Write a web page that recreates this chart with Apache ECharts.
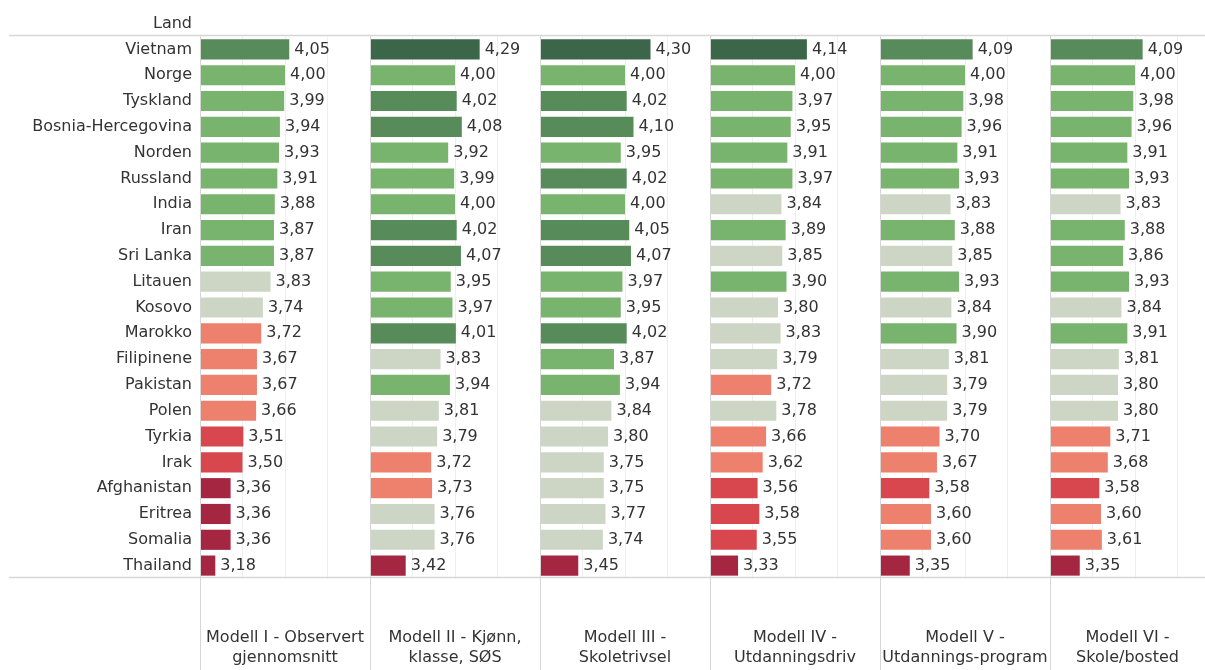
<!DOCTYPE html>
<html>
<head>
<meta charset="utf-8">
<script src="https://cdn.jsdelivr.net/npm/echarts@6/dist/echarts.min.js"></script>
<style>html,body{margin:0;padding:0;background:#fff}#c{width:1205px;height:670px}</style>
</head>
<body>
<div id="c"></div>
<script>
const countries = ["Vietnam","Norge","Tyskland","Bosnia-Hercegovina","Norden","Russland","India","Iran","Sri Lanka","Litauen","Kosovo","Marokko","Filipinene","Pakistan","Polen","Tyrkia","Irak","Afghanistan","Eritrea","Somalia","Thailand"];
const models = ["Modell I - Observert\ngjennomsnitt","Modell II - Kjønn,\nklasse, SØS","Modell III -\nSkoletrivsel","Modell IV -\nUtdanningsdriv","Modell V -\nUtdannings-program","Modell VI -\nSkole/bosted"];
const modell1 = [4.05,4.00,3.99,3.94,3.93,3.91,3.88,3.87,3.87,3.83,3.74,3.72,3.67,3.67,3.66,3.51,3.50,3.36,3.36,3.36,3.18];
const modell2 = [4.29,4.00,4.02,4.08,3.92,3.99,4.00,4.02,4.07,3.95,3.97,4.01,3.83,3.94,3.81,3.79,3.72,3.73,3.76,3.76,3.42];
const modell3 = [4.30,4.00,4.02,4.10,3.95,4.02,4.00,4.05,4.07,3.97,3.95,4.02,3.87,3.94,3.84,3.80,3.75,3.75,3.77,3.74,3.45];
const modell4 = [4.14,4.00,3.97,3.95,3.91,3.97,3.84,3.89,3.85,3.90,3.80,3.83,3.79,3.72,3.78,3.66,3.62,3.56,3.58,3.55,3.33];
const modell5 = [4.09,4.00,3.98,3.96,3.91,3.93,3.83,3.88,3.85,3.93,3.84,3.90,3.81,3.79,3.79,3.70,3.67,3.58,3.60,3.60,3.35];
const modell6 = [4.09,4.00,3.98,3.96,3.91,3.93,3.83,3.88,3.86,3.93,3.84,3.91,3.81,3.80,3.80,3.71,3.68,3.58,3.60,3.61,3.35];
const seriesData = [modell1,modell2,modell3,modell4,modell5,modell6];

// colour bins (lower bound, colour)
const bins = [
  [4.105, '#3c6649'],
  [4.005, '#578b5a'],
  [3.855, '#78b46d'],
  [3.735, '#cdd6c4'],
  [3.585, '#ee806e'],
  [3.455, '#d8474e'],
  [-Infinity, '#a52641']
];
function colorFor(v){ for (const b of bins) if (v >= b[0]) return b[1]; }

const L0 = 200, PW = 170, TOP = 35, BOT = 577, H = 670;
const font = 'DejaVu Sans';
const FS = 16;
const grids = [], xAxes = [], yAxes = [], series = [];
models.forEach((m, i) => {
  grids.push({left: L0 + PW*i, width: PW, top: TOP + 1.5, height: BOT - TOP, containLabel: false, outerBoundsMode: 'none'});
  xAxes.push({
    type: 'value', gridIndex: i, min: 3, max: 5, interval: 0.5,
    axisLabel: {show: false}, axisTick: {show: false}, axisLine: {show: false},
    splitLine: {show: true, lineStyle: {color: '#eeeeee', width: 1}},
    name: m, nameLocation: 'middle', nameGap: 49,
    nameTextStyle: {fontFamily: font, fontSize: FS, color: '#333', lineHeight: 20, align: 'center',
      padding: i === 5 ? [0, 15, 0, 0] : 0}
  });
  yAxes.push({
    type: 'category', gridIndex: i, data: countries, inverse: true,
    axisLine: {show: false}, axisTick: {show: false},
    axisLabel: {show: i === 0, fontFamily: font, fontSize: FS, color: '#333', margin: 8}
  });
  series.push({
    type: 'bar', xAxisIndex: i, yAxisIndex: i, data: seriesData[i],
    barCategoryGap: '22%',
    itemStyle: {color: p => colorFor(p.value)},
    label: {show: true, position: 'right', distance: 5, fontFamily: font, fontSize: FS, color: '#333',
      formatter: p => p.value.toFixed(2).replace('.', ',')},
    silent: true, animation: false
  });
});

const graphics = [];
for (let i = 0; i < 6; i++) {
  const x = L0 + PW*i + 0.5;
  graphics.push({type: 'line', z: 100, shape: {x1: x, y1: TOP, x2: x, y2: H}, style: {stroke: '#d6d6d6', lineWidth: 1}});
}
[TOP, BOT].forEach(y => graphics.push({type: 'line', z: 100, shape: {x1: 9, y1: y + 0.5, x2: 1205, y2: y + 0.5}, style: {stroke: '#d6d6d6', lineWidth: 1.5}}));
graphics.push({type: 'text', z: 100, style: {text: 'Land', x: 192, y: 24, align: 'right', verticalAlign: 'middle', fontFamily: font, fontSize: FS, fill: '#333'}});

const chart = echarts.init(document.getElementById('c'), null, {renderer: 'canvas'});
chart.setOption({
  animation: false,
  grid: grids, xAxis: xAxes, yAxis: yAxes, series: series, graphic: graphics
});
</script>
</body>
</html>
